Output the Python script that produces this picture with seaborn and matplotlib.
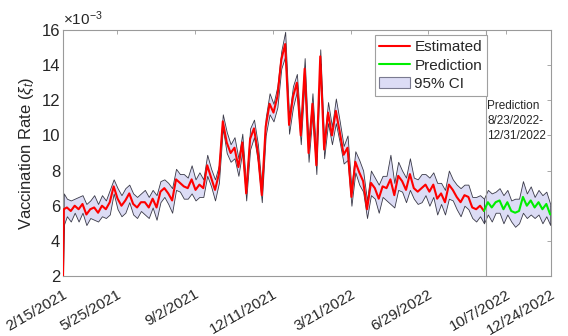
import numpy as np
import pandas as pd
import matplotlib
matplotlib.use("Agg")
import matplotlib.pyplot as plt
from matplotlib.lines import Line2D
from matplotlib.patches import Patch
import seaborn as sns

# ---------------- data (values in units of 1e-3) ----------------
est_days = [0, 1] + list(range(5, 541, 5))
est_vals = [2.0, 5.8,
            5.9, 5.7, 6.0, 5.8, 6.1, 5.5, 5.8, 5.9, 5.6, 6.0,
            5.8, 6.2, 7.1, 6.4, 6.0, 6.3, 6.7, 6.1, 5.9, 6.2,
            6.2, 5.9, 6.4, 5.9, 6.8, 7.0, 6.7, 6.3, 7.5, 7.3,
            7.1, 7.0, 7.5, 6.9, 7.2, 7.0, 8.3, 7.6, 6.9, 7.8,
            10.8, 9.6, 9.0, 9.3, 8.2, 9.6, 6.7, 9.8, 10.4, 9.0,
            6.6, 10.5, 11.8, 11.3, 12.2, 14.3, 15.2, 10.6, 12.2, 13.0,
            10.0, 13.8, 9.0, 11.8, 8.3, 14.5, 9.2, 11.3, 10.0, 11.4,
            10.2, 8.9, 9.3, 6.5, 8.5, 7.9, 7.4, 5.8, 7.3, 7.0,
            6.4, 7.1, 7.0, 7.5, 6.6, 7.7, 7.4, 6.9, 7.8, 7.0,
            6.8, 7.0, 7.2, 6.8, 7.2, 6.4, 6.7, 6.2, 7.2, 6.9,
            6.5, 6.2, 6.6, 6.5, 5.9, 5.8, 6.0, 5.7]
est_half = [0.1, 0.9,
            0.5, 0.6, 0.4, 0.7, 0.5, 0.6, 0.5, 0.7, 0.5, 0.6,
            0.5, 0.7, 0.4, 0.6, 0.6, 0.7, 0.5, 0.6, 0.6, 0.5,
            0.7, 0.6, 0.5, 0.7, 0.6, 0.5, 0.6, 0.7, 0.6, 0.5,
            0.7, 0.6, 0.8, 0.6, 0.7, 0.5, 0.6, 0.5, 0.6, 0.5,
            0.4, 0.6, 0.5, 0.6, 0.5, 0.5, 0.4, 0.6, 0.5, 0.5,
            0.4, 0.5, 0.6, 0.5, 0.6, 0.5, 0.7, 0.5, 0.6, 0.5,
            0.5, 0.6, 0.5, 0.6, 0.5, 0.4, 0.5, 0.6, 0.5, 0.7,
            0.6, 0.5, 0.7, 0.5, 0.6, 0.7, 0.6, 0.5, 0.7, 0.6,
            0.8, 0.6, 0.7, 1.4, 0.7, 0.8, 0.6, 0.7, 0.9, 0.6,
            0.7, 0.8, 0.6, 0.8, 0.7, 0.9, 0.6, 0.7, 0.8, 0.6,
            0.7, 0.8, 0.6, 0.7, 0.6, 0.7, 0.6, 0.7]

pred_days = list(range(540, 626, 5))
pred_vals = [5.7, 6.2, 5.9, 6.2, 6.3, 5.8, 6.2, 5.7, 5.6, 5.7,
             6.5, 6.0, 6.3, 5.9, 6.2, 5.8, 6.1, 5.5]
pred_half = [0.7, 0.7, 0.8, 0.6, 0.7, 0.8, 0.7, 0.6, 0.8, 0.7,
             0.9, 0.7, 0.8, 0.6, 0.7, 0.8, 0.7, 0.6]

tick_days = [0, 69, 169, 269, 369, 468, 568, 626]
tick_labels = ['2/15/2021', '5/25/2021', '9/2/2021', '12/11/2021',
               '3/21/2022', '6/29/2022', '10/7/2022', '12/24/2022']
split_day = 542
y_ticks = [2, 4, 6, 8, 10, 12, 14, 16]

# ---------------- plot ----------------
sns.set_style("white")
plt.rcParams['font.family'] = ['Liberation Sans', 'DejaVu Sans']
plt.rcParams['mathtext.fontset'] = 'custom'
plt.rcParams['mathtext.rm'] = 'Liberation Sans'
plt.rcParams['mathtext.it'] = 'Liberation Sans:italic'

est_df = pd.DataFrame({'day': est_days, 'val': est_vals, 'half': est_half})
pred_df = pd.DataFrame({'day': pred_days, 'val': pred_vals, 'half': pred_half})

fig = plt.figure(figsize=(5.68, 3.36), dpi=100)
ax = fig.add_axes([63/568, 1-276/336, 488/568, 246/336])

fill_c = '#dcdcf5'
edge_c = '#3a3a48'
for df in (est_df, pred_df):
    ax.fill_between(df['day'], df['val'] - df['half'], df['val'] + df['half'],
                    facecolor=fill_c, edgecolor=edge_c, linewidth=0.6, zorder=1)

sns.lineplot(data=est_df, x='day', y='val', color='#ff0000', linewidth=1.5,
             ax=ax, zorder=3, legend=False)
sns.lineplot(data=pred_df, x='day', y='val', color='#00ee00', linewidth=1.5,
             ax=ax, zorder=3, legend=False)

ax.axvline(split_day, color='#a0a0a0', linewidth=0.8, zorder=2)
ax.text(split_day + 2, 12.0, 'Prediction\n8/23/2022-\n12/31/2022',
        fontsize=8.5, color='#262626', va='top', ha='left', linespacing=1.3)

ax.set_xlim(0, 626)
ax.set_ylim(2, 16)
ax.set_xticks(tick_days)
ax.set_xticklabels(tick_labels, rotation=30, ha='right', rotation_mode='anchor',
                   fontsize=11, color='#262626')
ax.set_yticks(y_ticks)
ax.set_yticklabels([str(v) for v in y_ticks], fontsize=12, color='#262626')
ax.tick_params(axis='both', direction='in', length=3, width=0.6, color='#9a9a9a',
               top=True, right=True, pad=2)
ax.tick_params(axis='x', pad=8)
for s in ax.spines.values():
    s.set_color('#9a9a9a')
    s.set_linewidth(0.8)

ax.set_xlabel('')
ax.set_ylabel('Vaccination Rate ($\\xi_t$)', fontsize=12, color='#262626', labelpad=4)
ax.text(0.0, 1.008, '$\\times$10$^{-3}$', transform=ax.transAxes,
        fontsize=11, color='#262626', ha='left', va='bottom')

handles = [Line2D([], [], color='#ff0000', linewidth=1.5),
           Line2D([], [], color='#00ee00', linewidth=1.5),
           Patch(facecolor=fill_c, edgecolor='#7a7a90', linewidth=0.8)]
leg = ax.legend(handles, ['Estimated', 'Prediction', '95% CI'],
                loc='upper right', bbox_to_anchor=(0.868, 0.978),
                fontsize=11, frameon=True, fancybox=False, framealpha=1,
                edgecolor='#a0a0a0', handlelength=2.0, handletextpad=0.3,
                borderpad=0.3, labelspacing=0.3, borderaxespad=0.0)
leg.get_frame().set_linewidth(0.8)

fig.savefig('out.png', dpi=100)
